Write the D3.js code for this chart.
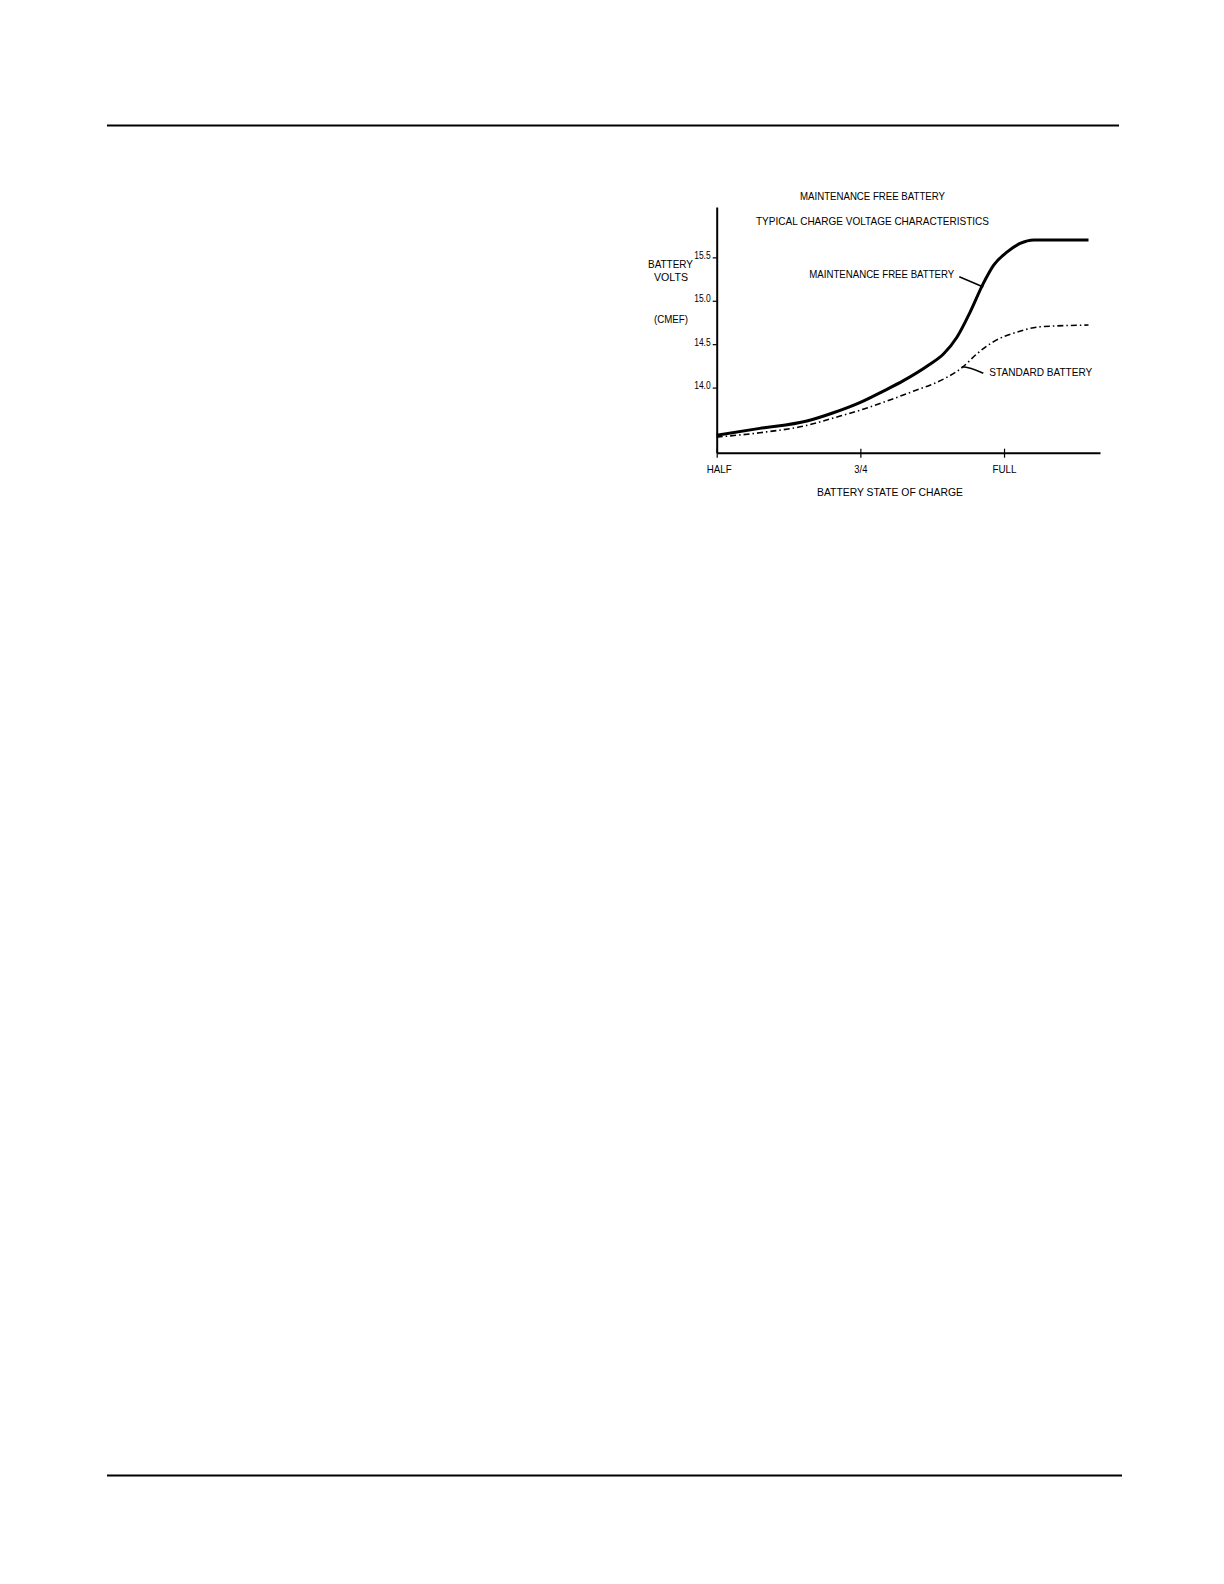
<!DOCTYPE html>
<html>
<head>
<meta charset="utf-8">
<script src="https://cdn.jsdelivr.net/npm/d3@7/dist/d3.min.js"></script>
<style>
  html, body { margin: 0; padding: 0; background: #fff; }
  text { font-family: "Liberation Sans", Arial, sans-serif; fill: #000; }
</style>
</head>
<body>
<svg id="chart" width="1224" height="1584"></svg>
<script>
// ---- data ----
const mfbCharge = [0.50, 0.575, 0.657, 0.703, 0.75, 0.79, 0.825, 0.869, 0.895, 0.918, 0.941, 0.964, 0.982, 1.005, 1.028, 1.052, 1.147];
const mfbVolts  = [13.45, 13.53, 13.615, 13.71, 13.83, 13.96, 14.08, 14.26, 14.39, 14.58, 14.87, 15.20, 15.41, 15.56, 15.66, 15.70, 15.70];
const stdCharge = [0.50, 0.575, 0.657, 0.703, 0.75, 0.79, 0.843, 0.872, 0.901, 0.927, 0.953, 0.982, 1.023, 1.063, 1.147];
const stdVolts  = [13.43, 13.48, 13.565, 13.65, 13.74, 13.83, 13.96, 14.03, 14.12, 14.23, 14.39, 14.53, 14.64, 14.70, 14.72];
const xTickValues = [0.5, 0.75, 1.0];
const xTickLabels = ["HALF", "3/4", "FULL"];
const yTickValues = [14.0, 14.5, 15.0, 15.5];
const yTickLabels = ["14.0", "14.5", "15.0", "15.5"];

const svg = d3.select("#chart");

// page rules
svg.append("line").attr("x1", 107).attr("x2", 1119).attr("y1", 125.5).attr("y2", 125.5)
  .attr("stroke", "#000").attr("stroke-width", 2);
svg.append("line").attr("x1", 107).attr("x2", 1122).attr("y1", 1475.5).attr("y2", 1475.5)
  .attr("stroke", "#000").attr("stroke-width", 2);

// scales
const x = d3.scaleLinear().domain([0.5, 1.167]).range([716.7, 1100]);
const y = d3.scaleLinear().domain([13.25, 16.08]).range([452.7, 207]);

// axes
const yAxis = d3.axisLeft(y).tickValues(yTickValues)
  .tickFormat((d, i) => yTickLabels[i]).tickSizeInner(4).tickSizeOuter(0).tickPadding(2);
const gy = svg.append("g").attr("transform", `translate(${x(0.5)},0)`).call(yAxis);
gy.select(".domain").attr("stroke-width", 2);
gy.selectAll(".tick line").attr("stroke-width", 1.2);
gy.selectAll(".tick text").attr("font-size", 11).attr("font-family", "Liberation Sans, Arial, sans-serif")
  .attr("textLength", 16.5).attr("lengthAdjust", "spacingAndGlyphs").attr("dy", "0.1em");

const xAxis = d3.axisBottom(x).tickValues(xTickValues)
  .tickFormat((d, i) => xTickLabels[i]).tickSizeInner(5).tickSizeOuter(0).tickPadding(8);
const gx = svg.append("g").attr("transform", `translate(0,${y(13.25)})`).call(xAxis);
gx.select(".domain").attr("stroke-width", 2);
gx.selectAll(".tick line").attr("y1", -4).attr("y2", 5).attr("stroke-width", 1.2);
const xLabW = [25, 13, 24];
gx.selectAll(".tick text").attr("font-size", 11).attr("font-family", "Liberation Sans, Arial, sans-serif")
  .attr("textLength", (d, i) => xLabW[i]).attr("lengthAdjust", "spacingAndGlyphs");
gx.selectAll(".tick text").filter((d, i) => i === 0).attr("dx", 2);

// lines
const mfbData = mfbCharge.map((c, i) => [c, mfbVolts[i]]);
const stdData = stdCharge.map((c, i) => [c, stdVolts[i]]);
const line = d3.line().x(d => x(d[0])).y(d => y(d[1])).curve(d3.curveMonotoneX);

svg.append("path").datum(stdData).attr("d", line)
  .attr("fill", "none").attr("stroke", "#000").attr("stroke-width", 1.6)
  .attr("stroke-dasharray", "6,3,1.5,3");
svg.append("path").datum(mfbData).attr("d", line)
  .attr("fill", "none").attr("stroke", "#000").attr("stroke-width", 3)
  .attr("stroke-linejoin", "round");

// texts
function label(t, cx, by, w, anchor) {
  svg.append("text").attr("x", cx).attr("y", by).attr("font-size", 11)
    .attr("text-anchor", anchor || "middle")
    .attr("textLength", w).attr("lengthAdjust", "spacingAndGlyphs").text(t);
}
label("MAINTENANCE FREE BATTERY", 872.5, 200, 145);
label("TYPICAL CHARGE VOLTAGE CHARACTERISTICS", 872.5, 224.5, 233);
label("BATTERY", 670.5, 268, 45);
label("VOLTS", 671, 281, 34);
label("(CMEF)", 671, 323, 34);
label("BATTERY STATE OF CHARGE", 890, 496, 146);
label("MAINTENANCE FREE BATTERY", 809.3, 278, 145, "start");
label("STANDARD BATTERY", 989.3, 376, 103, "start");

// leader lines
svg.append("line").attr("x1", 959.3).attr("y1", 276.7).attr("x2", 983.3).attr("y2", 287)
  .attr("stroke", "#000").attr("stroke-width", 1.5);
svg.append("path").attr("d", "M961.7,366.7 Q970,367 983.3,373.3")
  .attr("fill", "none").attr("stroke", "#000").attr("stroke-width", 1.5);
</script>
</body>
</html>
